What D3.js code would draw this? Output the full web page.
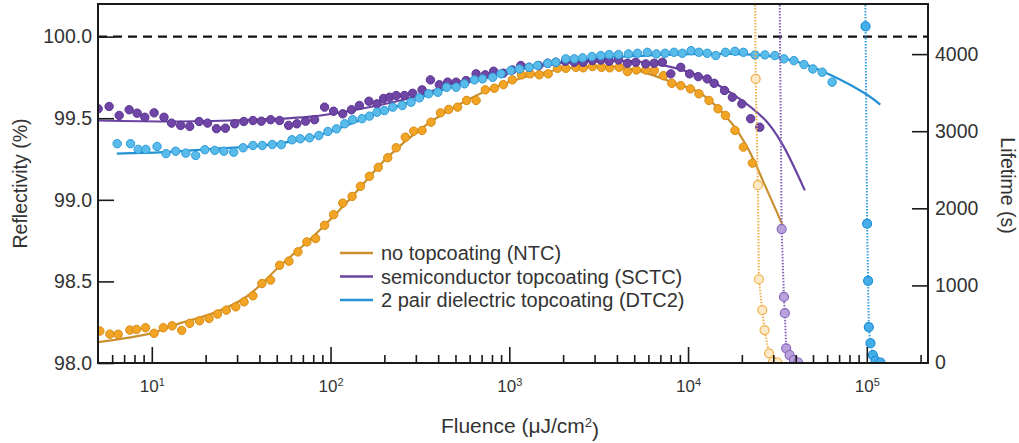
<!DOCTYPE html>
<html><head><meta charset="utf-8">
<script src="https://cdn.jsdelivr.net/npm/d3@7"></script>
<style>body{margin:0;background:#fff}svg{display:block;font-family:"Liberation Sans",Arial,Helvetica,sans-serif}</style>
</head><body><svg id="c" width="1019" height="443"></svg>
<script>
// ---------- data ----------
const ntcFluence = [5.12,5.83,6.48,7.54,8.21,9.22,10.3,11.6,13.0,14.7,16.3,18.5,20.9,23.3,26.1,29.5,32.8,36.8,41.3,46.2,51.9,58.5,65.7,73.7,82.5,92.6,104,117,132,147,165,185,209,233,262,292,325,365,412,458,514,577,652,734,825,926,1040,1170,1310,1470,1650,1860,2070,2360,2590,2920,3280,3650,4120,4580,5140,5800,6480,7280,8110,9100,10300,11500,13100,14700,16200,18300,20400,22900];
const ntcReflectivity = [98.196,98.177,98.176,98.202,98.206,98.216,98.182,98.216,98.228,98.200,98.243,98.259,98.273,98.300,98.324,98.344,98.375,98.412,98.487,98.508,98.599,98.624,98.681,98.742,98.763,98.844,98.909,98.980,99.021,99.083,99.144,99.199,99.258,99.319,99.384,99.421,99.425,99.476,99.533,99.554,99.568,99.609,99.609,99.674,99.684,99.706,99.735,99.766,99.772,99.766,99.772,99.806,99.806,99.812,99.809,99.817,99.812,99.809,99.812,99.786,99.796,99.796,99.792,99.761,99.714,99.700,99.680,99.650,99.609,99.558,99.517,99.425,99.323,99.225];

const sctcFluence = [5.01,5.77,6.57,7.47,8.28,9.14,10.3,11.7,12.9,14.5,16.3,18.4,20.5,23.0,25.8,29.1,32.7,36.8,41.0,46.2,51.9,58.3,64.8,72.5,81.4,92.6,104,117,131,145,164,182,198,214,233,259,288,325,362,406,452,504,573,652,734,817,926,1040,1160,1290,1460,1640,1820,2060,2310,2590,2920,3250,3620,4080,4580,5100,5800,6460,7180,8010,9100,10200,11400,12800,14000,16000,17700,20000,22400,25200];
const sctcReflectivity = [99.558,99.572,99.517,99.552,99.531,99.506,99.533,99.506,99.470,99.456,99.450,99.480,99.470,99.436,99.439,99.466,99.480,99.486,99.482,99.491,99.486,99.456,99.466,99.482,99.491,99.568,99.543,99.527,99.552,99.578,99.604,99.588,99.621,99.629,99.639,99.639,99.653,99.674,99.735,99.705,99.721,99.721,99.731,99.772,99.766,99.788,99.776,99.796,99.823,99.812,99.823,99.837,99.843,99.849,99.843,99.843,99.853,99.857,99.849,99.857,99.837,99.843,99.833,99.837,99.843,99.772,99.812,99.772,99.755,99.741,99.714,99.670,99.629,99.588,99.497,99.445];

const dtcFluence = [6.40,7.60,8.39,9.26,10.7,12.0,13.6,15.5,17.6,19.8,22.5,25.3,28.7,32.4,36.8,41.5,47.2,53.0,60.8,67.7,76.3,86.0,96.6,108,120,133,150,165,182,200,223,252,282,314,354,398,446,504,561,638,709,807,899,1020,1140,1290,1440,1640,1820,2070,2310,2570,2900,3250,3620,4080,4640,5210,5920,6650,7440,8350,9290,10400,11500,12800,14300,16200,18300,20400,23700,26900,30600,34400,39100,44500,49900,56300,64000];
const dtcReflectivity = [99.344,99.344,99.309,99.309,99.327,99.283,99.298,99.286,99.272,99.307,99.303,99.298,99.292,99.319,99.333,99.333,99.339,99.338,99.368,99.374,99.380,99.394,99.419,99.435,99.466,99.491,99.497,99.513,99.537,99.547,99.568,99.578,99.598,99.625,99.650,99.659,99.690,99.690,99.711,99.735,99.741,99.751,99.772,99.792,99.802,99.812,99.823,99.837,99.843,99.864,99.864,99.870,99.878,99.884,99.890,99.890,99.894,99.898,99.904,99.894,99.898,99.904,99.898,99.914,99.904,99.898,99.884,99.904,99.910,99.904,99.888,99.888,99.884,99.864,99.853,99.829,99.802,99.782,99.721];

// fitted curves
const ntcFitFluence = [5.0,10,14.3,21.9,33.8,51.9,79.3,122,208,322,512,824,1471,2800,4680,8900,11500,17600,21900,27200,34800];
const ntcFitReflectivity = [98.128,98.183,98.243,98.304,98.406,98.593,98.772,98.979,99.260,99.437,99.578,99.688,99.774,99.817,99.804,99.706,99.659,99.468,99.303,99.078,98.813];
const sctcFitFluence = [5.0,14.3,33.9,79.3,183,313,463,880,1670,3170,6000,11500,17600,27200,33500,45000];
const sctcFitReflectivity = [99.486,99.480,99.489,99.511,99.578,99.639,99.706,99.780,99.829,99.853,99.841,99.761,99.651,99.486,99.346,99.058];
const dtcFitFluence = [6.37,11.6,22.0,41.8,79.6,182,443,1043,2460,5800,12800,17700,27200,41700,64000,98400,119000];
const dtcFitReflectivity = [99.283,99.292,99.313,99.333,99.384,99.527,99.680,99.788,99.857,99.884,99.894,99.894,99.884,99.843,99.761,99.650,99.584];

// lifetime (right axis)
const ntcLifeFluence = [23500,23900,24600,24900,26000,26800,28400,29900,31600];
const ntcLifetime = [6000,3680,2300,1080,680,421,119,10,0];
const sctcLifeFluence = [32200,33400,34400,34800,35400,37000,39100,41300];
const sctcLifetime = [6000,1730,850,640,184,97,32,0];
const dtcLifeFluence = [97500,98400,100400,101700,102600,104900,108100,111900,119300];
const dtcLifetime = [6000,4360,1800,1060,460,250,97,23,0];

const leftTicks = [98.0,98.5,99.0,99.5,100.0];
const rightTicks = [0,1000,2000,3000,4000];
const xMajorTicks = [10,100,1000,10000,100000];
const xMinorTicks = [6,7,8,9,20,30,40,50,60,70,80,90,200,300,400,500,600,700,800,900,2000,3000,4000,5000,6000,7000,8000,9000,20000,30000,40000,50000,60000,70000,80000,90000,200000];
const refLevel = 100.0;
const legendLabels = ["no topcoating (NTC)","semiconductor topcoating (SCTC)","2 pair dielectric topcoating (DTC2)"];

// ---------- drawing ----------
const svg = d3.select("#c");
const L = 98, R = 928, T = 4, B = 363;
const x = d3.scaleLog().domain([5, 2.2e5]).range([L, R]);
const yL = d3.scaleLinear().domain([98, 100.2]).range([B, T]);
const yR = d3.scaleLinear().domain([0, 4650]).range([362.5, T]);

svg.append("defs").append("clipPath").attr("id","clip")
  .append("rect").attr("x",L).attr("y",T).attr("width",R-L).attr("height",B-T);

const series = [
  {f:ntcFluence, r:ntcReflectivity, ff:ntcFitFluence, fr:ntcFitReflectivity, lf:ntcLifeFluence, lt:ntcLifetime,
   dot:"#f2a524", dotStroke:"#d98a12", fit:"#c9912f", life:"#fbe8c6", lifeStroke:"#f0b04a", lifeLine:"#efb04c"},
  {f:sctcFluence, r:sctcReflectivity, ff:sctcFitFluence, fr:sctcFitReflectivity, lf:sctcLifeFluence, lt:sctcLifetime,
   dot:"#6f46a6", dotStroke:"#5a3490", fit:"#6a44a2", life:"#b9a1dc", lifeStroke:"#8a68be", lifeLine:"#8563bb"},
  {f:dtcFluence, r:dtcReflectivity, ff:dtcFitFluence, fr:dtcFitReflectivity, lf:dtcLifeFluence, lt:dtcLifetime,
   dot:"#58bbea", dotStroke:"#2d9bd8", fit:"#2391d3", life:"#45aeea", lifeStroke:"#1f8fd4", lifeLine:"#3a9ede"}
];

const plot = svg.append("g").attr("clip-path","url(#clip)");
const fitLine = d3.line().curve(d3.curveCatmullRom.alpha(0.5));

series.forEach(s => {
  const pts = s.ff.map((f,i)=>[x(f), yL(s.fr[i])]);
  plot.append("path").attr("d", fitLine(pts)).attr("fill","none").attr("stroke", s.fit).attr("stroke-width",2.2);
});
series.forEach(s => {
  plot.append("g").selectAll("circle").data(s.f.map((f,i)=>[f,s.r[i]])).join("circle")
    .attr("cx", d=>x(d[0])).attr("cy", d=>yL(d[1])).attr("r",4.2)
    .attr("fill", s.dot).attr("stroke", s.dotStroke).attr("stroke-width",1);
});
// dashed reference
plot.append("line").attr("x1",L).attr("x2",R).attr("y1",yL(refLevel)).attr("y2",yL(refLevel))
  .attr("stroke","#111").attr("stroke-width",2.4).attr("stroke-dasharray","9,6");
// lifetime
series.forEach(s => {
  const pts = s.lf.map((f,i)=>[x(f), yR(s.lt[i])]);
  plot.append("path").attr("d", d3.line()(pts)).attr("fill","none").attr("stroke", s.lifeLine)
    .attr("stroke-width",2).attr("stroke-dasharray","1.5,1.5");
  plot.append("g").selectAll("circle").data(pts).join("circle")
    .attr("cx", d=>d[0]).attr("cy", d=>d[1]).attr("r",4.5)
    .attr("fill", s.life).attr("stroke", s.lifeStroke).attr("stroke-width",1.2);
});

// axes
const axFont = 19.5;
const gl = svg.append("g").attr("transform",`translate(${L},0)`)
  .call(d3.axisLeft(yL).tickValues(leftTicks).tickSize(-16).tickPadding(6).tickFormat(d3.format(".1f")));
const gr = svg.append("g").attr("transform",`translate(${R},0)`)
  .call(d3.axisRight(yR).tickValues(rightTicks).tickSize(-16).tickPadding(7).tickFormat(d3.format("d")));
const gb = svg.append("g").attr("transform",`translate(0,${B})`)
  .call(d3.axisBottom(x).tickValues(xMajorTicks).tickSize(-16).tickPadding(17).tickFormat(d=>""));
const gm = svg.append("g").attr("transform",`translate(0,${B})`)
  .call(d3.axisBottom(x).tickValues(xMinorTicks).tickSize(-8).tickFormat(""));
[gl,gr,gb,gm].forEach(g=>{
  g.select(".domain").remove();
  g.selectAll(".tick line").attr("stroke","#1a1a1a").attr("stroke-width",1.6);
  g.selectAll(".tick text").attr("font-size",axFont).attr("fill","#333").attr("font-family","Liberation Sans, Arial, sans-serif");
});
gb.selectAll(".tick text").each(function(d){
  const t = d3.select(this).attr("font-size",17);
  t.text("10");
  t.append("tspan").attr("dy","-0.55em").attr("font-size",11).text(Math.round(Math.log10(d)));
});
// frame
svg.append("rect").attr("x",L).attr("y",T).attr("width",R-L).attr("height",B-T)
  .attr("fill","none").attr("stroke","#1a1a1a").attr("stroke-width",2);

// titles
svg.append("text").attr("transform",`translate(27,${(T+B)/2}) rotate(-90)`).attr("text-anchor","middle")
  .attr("font-size",19.5).attr("fill","#333").text("Reflectivity (%)");
svg.append("text").attr("transform",`translate(1001,${(T+B)/2+2}) rotate(90)`).attr("text-anchor","middle")
  .attr("font-size",19.5).attr("fill","#333").text("Lifetime (s)");
const xt = svg.append("text").attr("x",520).attr("y",433).attr("text-anchor","middle")
  .attr("font-size",21).attr("fill","#333");
xt.append("tspan").text("Fluence (\u03bcJ/cm");
xt.append("tspan").attr("dy","-0.5em").attr("font-size",13).text("2");
xt.append("tspan").attr("dy","0.5em").text(")");

// legend
const lg = svg.append("g");
legendLabels.forEach((lab,i)=>{
  const yy = 253 + i*23.5;
  lg.append("line").attr("x1",340).attr("x2",373).attr("y1",yy).attr("y2",yy)
    .attr("stroke", series[i].fit).attr("stroke-width",2.5);
  lg.append("text").attr("x",381).attr("y",yy).attr("dy","0.35em").attr("font-size",20).attr("fill","#333").text(lab);
});
</script>
</body></html>
